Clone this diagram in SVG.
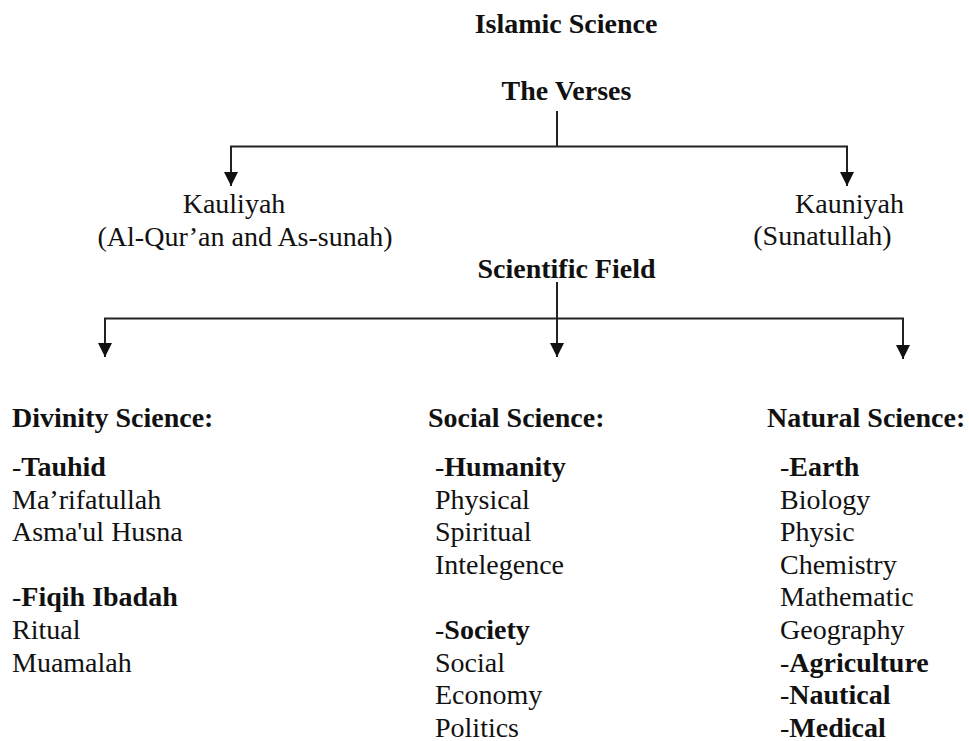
<svg xmlns="http://www.w3.org/2000/svg" width="969" height="741" viewBox="0 0 969 741">
  <defs>
    <marker id="arrow" markerUnits="userSpaceOnUse" markerWidth="14" markerHeight="14" refX="14" refY="7" orient="auto">
      <path d="M0,0 L14,7 L0,14 Z" fill="#111"/>
    </marker>
    <style>
      text { font-family: "Liberation Serif", "Times New Roman", serif; font-size: 28px; fill: #111; }
      .b { font-weight: bold; }
      .c { text-anchor: middle; }
      .conn { fill: none; stroke: #222; stroke-width: 2; }
    </style>
  </defs>
  <rect width="969" height="741" fill="#fff"/>

  <g id="connectors">
    <path class="conn" d="M557,111 V146.5"/>
    <path class="conn" d="M557,146.5 H231 V186" marker-end="url(#arrow)"/>
    <path class="conn" d="M557,146.5 H847 V186" marker-end="url(#arrow)"/>
    <path class="conn" d="M557,282 V357" marker-end="url(#arrow)"/>
    <path class="conn" d="M557,318.5 H105 V357" marker-end="url(#arrow)"/>
    <path class="conn" d="M557,318.5 H903 V359" marker-end="url(#arrow)"/>
  </g>

  <g id="islamic-science">
    <text class="b c" x="566" y="33">Islamic Science</text>
  </g>
  <g id="the-verses">
    <text class="b c" x="566.5" y="100">The Verses</text>
  </g>
  <g id="kauliyah">
    <text class="c" x="234" y="213">Kauliyah</text>
    <text class="c" x="245" y="246">(Al-Qur’an and As-sunah)</text>
  </g>
  <g id="kauniyah">
    <text class="c" x="849.5" y="213">Kauniyah</text>
    <text class="c" x="822.5" y="245">(Sunatullah)</text>
  </g>
  <g id="scientific-field">
    <text class="b c" x="566.5" y="278">Scientific Field</text>
  </g>

  <g id="divinity-science">
    <text class="b" x="12" y="427">Divinity Science:</text>
    <text x="12" y="476">-<tspan class="b">Tauhid</tspan></text>
    <text x="12" y="508.6">Ma’rifatullah</text>
    <text x="12" y="541.2">Asma'ul Husna</text>
    <text x="12" y="606.4">-<tspan class="b">Fiqih Ibadah</tspan></text>
    <text x="12" y="639">Ritual</text>
    <text x="12" y="671.6">Muamalah</text>
  </g>

  <g id="social-science">
    <text class="b" x="428" y="427">Social Science:</text>
    <text x="435" y="476">-<tspan class="b">Humanity</tspan></text>
    <text x="435" y="508.6">Physical</text>
    <text x="435" y="541.2">Spiritual</text>
    <text x="435" y="573.8">Intelegence</text>
    <text x="435" y="639">-<tspan class="b">Society</tspan></text>
    <text x="435" y="671.6">Social</text>
    <text x="435" y="704.2">Economy</text>
    <text x="435" y="736.8">Politics</text>
  </g>

  <g id="natural-science">
    <text class="b" x="767" y="427">Natural Science:</text>
    <text x="780" y="476">-<tspan class="b">Earth</tspan></text>
    <text x="780" y="508.6">Biology</text>
    <text x="780" y="541.2">Physic</text>
    <text x="780" y="573.8">Chemistry</text>
    <text x="780" y="606.4">Mathematic</text>
    <text x="780" y="639">Geography</text>
    <text x="780" y="671.6">-<tspan class="b">Agriculture</tspan></text>
    <text x="780" y="704.2">-<tspan class="b">Nautical</tspan></text>
    <text x="780" y="736.8">-<tspan class="b">Medical</tspan></text>
  </g>
</svg>
